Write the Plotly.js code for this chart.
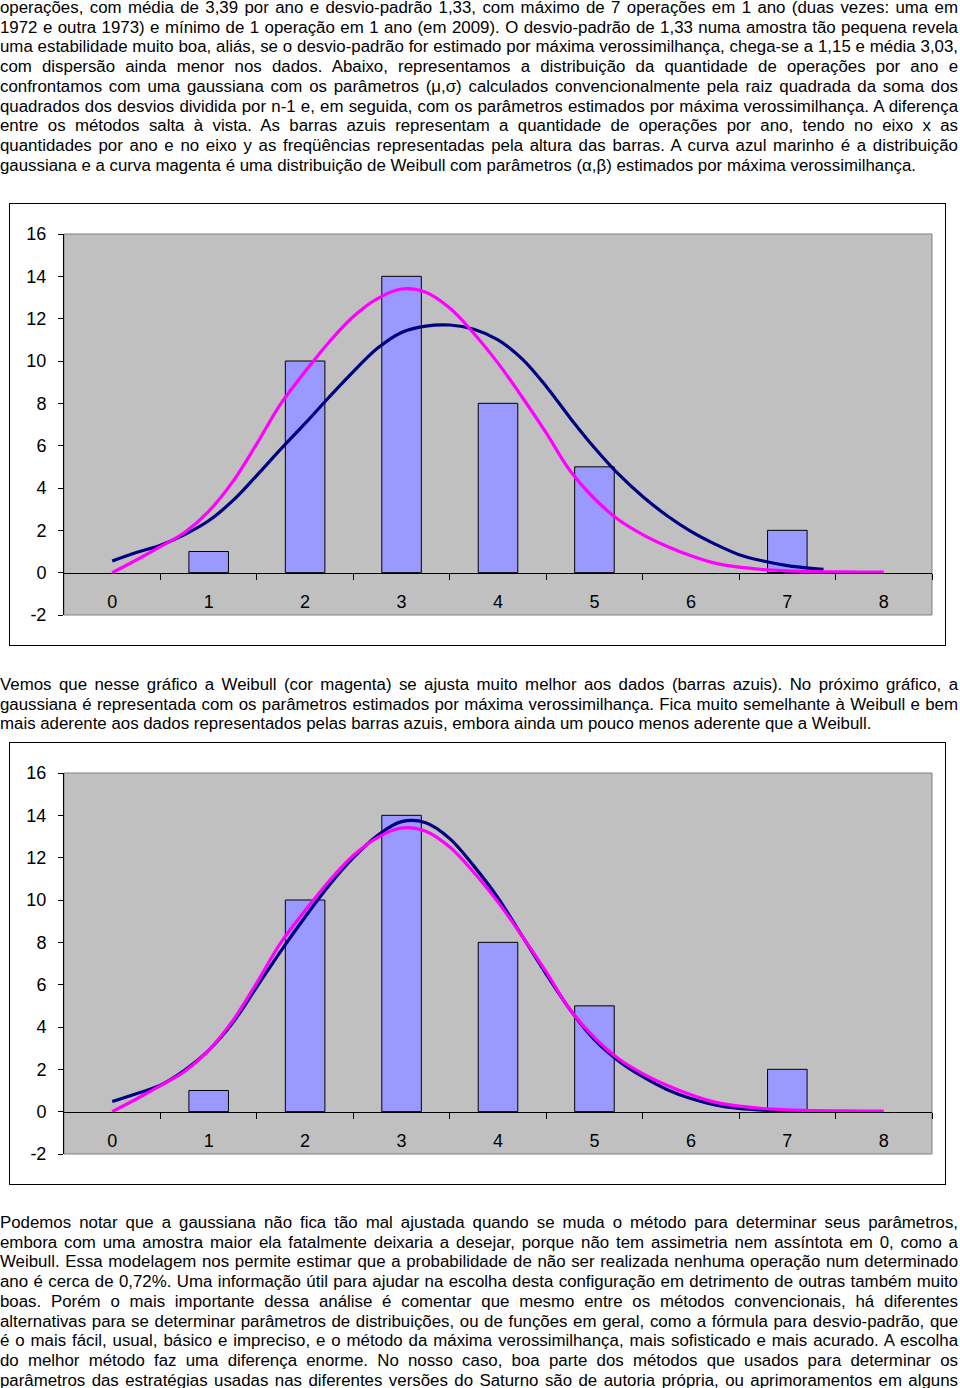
<!DOCTYPE html>
<html>
<head>
<meta charset="utf-8">
<script src="https://cdn.plot.ly/plotly-3.0.1.min.js"></script>
<style>
  html, body { margin:0; padding:0; background:#fff; }
  body { width:960px; height:1388px; position:relative; overflow:hidden;
         font-family:"Liberation Sans", Arial, sans-serif; font-size:16.85px; color:#000; }
  .para { position:absolute; left:0; width:958px; line-height:19.7px; }
  .ln { text-align:justify; text-align-last:justify; white-space:nowrap; }
  .ln.last { text-align:left; text-align-last:left; }
  .chart { position:absolute; left:9px; width:937px; height:443px; box-sizing:border-box;
           border:1px solid #000; background:#fff; }
</style>
</head>
<body>
<div class="para" style="top:-2px">
  <div class="ln">operações, com média de 3,39 por ano e desvio-padrão 1,33, com máximo de 7 operações em 1 ano (duas vezes: uma em</div>
  <div class="ln">1972 e outra 1973) e mínimo de 1 operação em 1 ano (em 2009). O desvio-padrão de 1,33 numa amostra tão pequena revela</div>
  <div class="ln">uma estabilidade muito boa, aliás, se o desvio-padrão for estimado por máxima verossimilhança, chega-se a 1,15 e média 3,03,</div>
  <div class="ln">com dispersão ainda menor nos dados. Abaixo, representamos a distribuição da quantidade de operações por ano e</div>
  <div class="ln">confrontamos com uma gaussiana com os parâmetros (μ,σ) calculados convencionalmente pela raiz quadrada da soma dos</div>
  <div class="ln">quadrados dos desvios dividida por n-1 e, em seguida, com os parâmetros estimados por máxima verossimilhança. A diferença</div>
  <div class="ln">entre os métodos salta à vista. As barras azuis representam a quantidade de operações por ano, tendo no eixo x as</div>
  <div class="ln">quantidades por ano e no eixo y as freqüências representadas pela altura das barras. A curva azul marinho é a distribuição</div>
  <div class="ln last">gaussiana e a curva magenta é uma distribuição de Weibull com parâmetros (α,β) estimados por máxima verossimilhança.</div>
</div>

<div id="chart1" class="chart" style="top:203px"></div>

<div class="para" style="top:675px">
  <div class="ln">Vemos que nesse gráfico a Weibull (cor magenta) se ajusta muito melhor aos dados (barras azuis). No próximo gráfico, a</div>
  <div class="ln">gaussiana é representada com os parâmetros estimados por máxima verossimilhança. Fica muito semelhante à Weibull e bem</div>
  <div class="ln last">mais aderente aos dados representados pelas barras azuis, embora ainda um pouco menos aderente que a Weibull.</div>
</div>

<div id="chart2" class="chart" style="top:742px"></div>

<div class="para" style="top:1213px">
  <div class="ln">Podemos notar que a gaussiana não fica tão mal ajustada quando se muda o método para determinar seus parâmetros,</div>
  <div class="ln">embora com uma amostra maior ela fatalmente deixaria a desejar, porque não tem assimetria nem assíntota em 0, como a</div>
  <div class="ln">Weibull. Essa modelagem nos permite estimar que a probabilidade de não ser realizada nenhuma operação num determinado</div>
  <div class="ln">ano é cerca de 0,72%. Uma informação útil para ajudar na escolha desta configuração em detrimento de outras também muito</div>
  <div class="ln">boas. Porém o mais importante dessa análise é comentar que mesmo entre os métodos convencionais, há diferentes</div>
  <div class="ln">alternativas para se determinar parâmetros de distribuições, ou de funções em geral, como a fórmula para desvio-padrão, que</div>
  <div class="ln">é o mais fácil, usual, básico e impreciso, e o método da máxima verossimilhança, mais sofisticado e mais acurado. A escolha</div>
  <div class="ln">do melhor método faz uma diferença enorme. No nosso caso, boa parte dos métodos que usados para determinar os</div>
  <div class="ln">parâmetros das estratégias usadas nas diferentes versões do Saturno são de autoria própria, ou aprimoramentos em alguns</div>
</div>

<script>
// ---- data ----
const categories = [0, 1, 2, 3, 4, 5, 6, 7, 8];
const tickLabels = ['0', '1', '2', '3', '4', '5', '6', '7', '8'];
const yTicks = [-2, 0, 2, 4, 6, 8, 10, 12, 14, 16];
const yTickLabels = ['-2', '0', '2', '4', '6', '8', '10', '12', '14', '16'];
const counts = [0, 1, 10, 14, 8, 5, 0, 2, 0];

const curveX = [0, 0.25, 0.5, 0.75, 1, 1.25, 1.5, 1.75, 2, 2.25, 2.5, 2.75, 3, 3.25, 3.5, 3.75,
                4, 4.25, 4.5, 4.75, 5, 5.25, 5.5, 5.75, 6, 6.25, 6.5, 6.75, 7, 7.25, 7.5, 7.75, 8];
const gaussX = [0, 0.25, 0.5, 0.75, 1, 1.25, 1.5, 1.75, 2, 2.25, 2.5, 2.75, 3, 3.25, 3.5, 3.75,
                4, 4.25, 4.5, 4.75, 5, 5.25, 5.5, 5.75, 6, 6.25, 6.5, 6.75, 7, 7.25, 7.375];

// gaussian, conventional parameters (navy, chart 1)
const gaussConv = [0.55, 0.95, 1.3, 1.8, 2.45, 3.4, 4.6, 5.85, 7.05, 8.3, 9.5, 10.6, 11.35, 11.65, 11.7, 11.5,
                   11.0, 10.1, 8.8, 7.3, 5.9, 4.65, 3.6, 2.7, 1.95, 1.35, 0.85, 0.55, 0.33, 0.2, 0.16];
// gaussian, maximum likelihood parameters (navy, chart 2)
const gaussML = [0.48, 0.85, 1.25, 1.95, 2.9, 4.2, 5.9, 7.6, 9.2, 10.7, 12.0, 13.05, 13.7, 13.65, 12.9, 11.6,
                 10.1, 8.3, 6.5, 4.8, 3.4, 2.4, 1.65, 1.05, 0.62, 0.32, 0.15, 0.07, 0.03, 0.01, 0.01];
// weibull (magenta, both charts)
const weibull = [0, 0.6, 1.23, 1.9, 2.9, 4.3, 6.1, 8.0, 9.5, 10.9, 12.1, 12.95, 13.4, 13.25, 12.5, 11.3,
                 9.9, 8.3, 6.6, 4.8, 3.5, 2.5, 1.8, 1.25, 0.8, 0.45, 0.26, 0.15, 0.08, 0.05, 0.04, 0.03, 0.03];

// ---- drawing ----
const FONT = 'Liberation Sans, Arial, sans-serif';

function makeChart(id, gaussY) {
  const traces = [
    { type: 'bar', x: categories, y: counts, width: 0.41,
      marker: { color: '#9999FF', line: { color: '#000000', width: counts.map(v => (v ? 1 : 0)) } },
      hoverinfo: 'skip', showlegend: false },
    { type: 'scatter', mode: 'lines', x: gaussX, y: gaussY,
      line: { color: '#000080', width: 3.2, shape: 'spline', smoothing: 1 },
      hoverinfo: 'skip', showlegend: false },
    { type: 'scatter', mode: 'lines', x: curveX, y: weibull,
      line: { color: '#FF00FF', width: 3.2, shape: 'spline', smoothing: 1 },
      hoverinfo: 'skip', showlegend: false }
  ];
  const yMin = yTicks[0], yMax = yTicks[yTicks.length - 1];
  const layout = {
    width: 935, height: 441,
    margin: { l: 54, r: 13, t: 30, b: 30 },
    paper_bgcolor: '#FFFFFF', plot_bgcolor: '#C0C0C0',
    showlegend: false,
    font: { family: FONT, size: 18, color: '#000' },
    xaxis: {
      range: [categories[0] - 0.5, categories[categories.length - 1] + 0.5],
      tickmode: 'array', tickvals: categories, ticktext: tickLabels,
      ticks: '', showgrid: false, zeroline: false,
      showline: true, linecolor: '#000', linewidth: 1,
      anchor: 'free', position: (0 - yMin) / (yMax - yMin),
      tickfont: { family: FONT, size: 18, color: '#000' },
      ticklabelstandoff: 13,
      minor: { tickmode: 'array', tickvals: categories.map(c => c + 0.5),
               ticks: 'outside', ticklen: 6, tickcolor: '#000', tickwidth: 1, showgrid: false },
      fixedrange: true
    },
    yaxis: {
      range: [yMin, yMax], tickmode: 'array', tickvals: yTicks, ticktext: yTickLabels,
      ticks: 'outside', ticklen: 5, tickcolor: '#000', tickwidth: 1,
      showline: true, linecolor: '#000', linewidth: 1,
      showgrid: false, zeroline: false,
      tickfont: { family: FONT, size: 18, color: '#000' },
      ticklabelstandoff: 8,
      fixedrange: true
    },
    shapes: [
      { type: 'rect', xref: 'paper', yref: 'paper', x0: 0, x1: 1, y0: 0, y1: 1,
        line: { color: '#808080', width: 1 }, layer: 'below' }
    ],
    bargap: 0
  };
  Plotly.newPlot(id, traces, layout, { staticPlot: true, displayModeBar: false });
}

makeChart('chart1', gaussConv);
makeChart('chart2', gaussML);
</script>
</body>
</html>
